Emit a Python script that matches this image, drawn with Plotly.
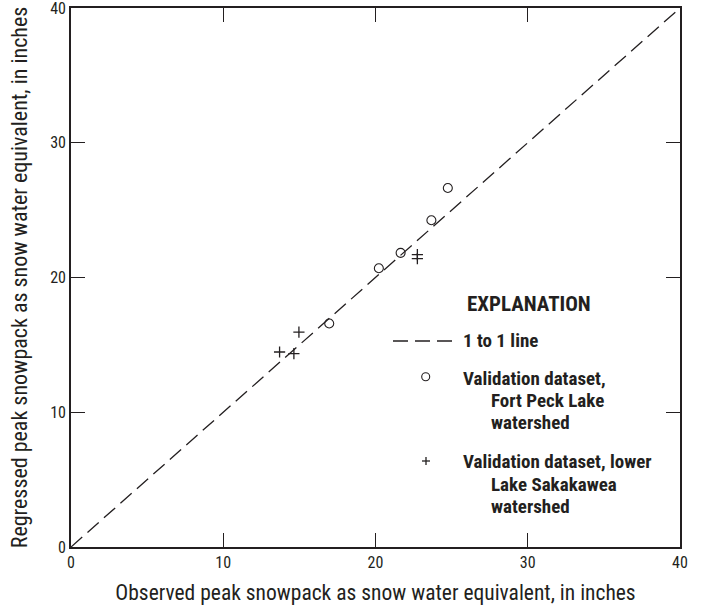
import plotly.graph_objects as go

# Validation data: observed vs. regressed peak snowpack (SWE, inches)
fort_peck_observed = [24.75, 23.67, 21.65, 20.22, 16.96]
fort_peck_regressed = [26.64, 24.25, 21.83, 20.69, 16.59]

sakakawea_observed = [22.75, 22.75, 14.97, 13.70, 14.64]
sakakawea_regressed = [21.70, 21.40, 15.95, 14.47, 14.35]

one_to_one = [0, 40]
tick_values = [0, 10, 20, 30, 40]

INK = "#231f20"
FONT = "Liberation Sans Narrow, Arial Narrow, Roboto Condensed, DejaVu Sans Condensed, sans-serif"

fig = go.Figure()

fig.add_trace(go.Scatter(
    x=one_to_one, y=one_to_one, mode="lines",
    line=dict(color=INK, width=1.3, dash="15px,7px"),
    showlegend=False, hoverinfo="skip",
))
fig.add_trace(go.Scatter(
    x=fort_peck_observed, y=fort_peck_regressed, mode="markers",
    marker=dict(symbol="circle-open", size=9, color=INK, line=dict(width=1.1)),
    showlegend=False,
))
fig.add_trace(go.Scatter(
    x=sakakawea_observed, y=sakakawea_regressed, mode="markers",
    marker=dict(symbol="cross-thin-open", size=8, color=INK, line=dict(width=1.3, color=INK)),
    showlegend=False,
))

axis_common = dict(
    range=[0, 40], tickvals=tick_values, ticks="inside", ticklen=14,
    tickwidth=1.3, tickcolor=INK, showline=True, linecolor=INK, linewidth=1.6,
    mirror="ticks", showgrid=False, zeroline=False, fixedrange=True,
    ticklabeloverflow="allow",
    tickfont=dict(family=FONT, size=16, color=INK),
)

fig.update_layout(
    width=701, height=607,
    margin=dict(l=71, r=21, t=8, b=60, autoexpand=False),
    paper_bgcolor="white", plot_bgcolor="white",
    font=dict(family=FONT, color=INK),
    xaxis=dict(axis_common,
               title=dict(text="Observed peak snowpack as snow water equivalent, in inches",
                          font=dict(family=FONT, size=21.5, color=INK), standoff=14)),
    yaxis=dict(axis_common,
               title=dict(text="Regressed peak snowpack as snow water equivalent, in inches",
                          font=dict(family=FONT, size=22, color=INK), standoff=17)),
)

# Explanation block (paper coordinates)
W, H, X0, Y1 = 609.0, 539.0, 71.0, 547.0
def px(x):
    return (x - X0) / W
def py(y):
    return (Y1 - y) / H

def label(x, y, text, anchor="left", size=19):
    fig.add_annotation(xref="paper", yref="paper", x=px(x), y=py(y), text=text,
                       showarrow=False, xanchor=anchor, yanchor="middle",
                       font=dict(family=FONT, size=size, color=INK))

label(529, 304, "<b>EXPLANATION</b>", anchor="center", size=21)

fig.add_shape(type="line", xref="paper", yref="paper",
              x0=px(393), x1=px(457), y0=py(341), y1=py(341),
              line=dict(color=INK, width=1.3, dash="15px,7px"))
label(461, 340, "<b>1 to 1 line</b>")

fig.add_shape(type="circle", xref="paper", yref="paper",
              x0=px(421.7), x1=px(429.7), y0=py(372.7), y1=py(380.7),
              line=dict(color=INK, width=1.1))
label(461, 378, "<b>Validation dataset,</b>")
label(489, 400, "<b>Fort Peck Lake</b>")
label(489, 422, "<b>watershed</b>")

fig.add_shape(type="line", xref="paper", yref="paper",
              x0=px(422), x1=px(430), y0=py(461), y1=py(461),
              line=dict(color=INK, width=1.3))
fig.add_shape(type="line", xref="paper", yref="paper",
              x0=px(426), x1=px(426), y0=py(457), y1=py(465),
              line=dict(color=INK, width=1.3))
label(461, 461.5, "<b>Validation dataset, lower</b>")
label(489, 484, "<b>Lake Sakakawea</b>")
label(489, 506, "<b>watershed</b>")

fig.write_html("out.html")
